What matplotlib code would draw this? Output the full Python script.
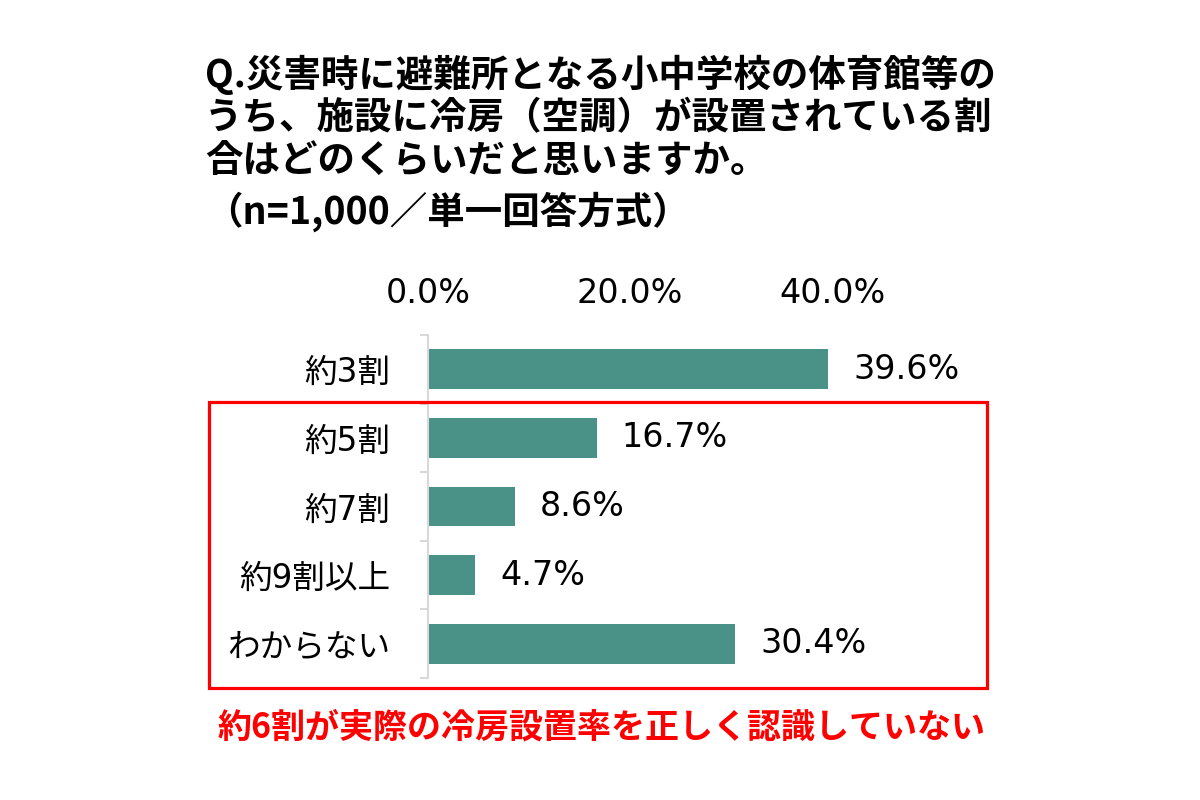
import matplotlib
matplotlib.use('Agg')
from matplotlib import pyplot as plt
from matplotlib.patches import Rectangle

plt.rcParams['font.family'] = ['Noto Sans CJK JP', 'DejaVu Sans']
num_font = ['DejaVu Sans', 'Noto Sans CJK JP']

# data
categories = ['約3割', '約5割', '約7割', '約9割以上', 'わからない']
values = [39.6, 16.7, 8.6, 4.7, 30.4]
tick_values = [0, 20, 40]
tick_labels = ['0.0%', '20.0%', '40.0%']

title_lines = [
    'Q.災害時に避難所となる小中学校の体育館等の',
    'うち、施設に冷房（空調）が設置されている割',
    '合はどのくらいだと思いますか。',
    '（n=1,000／単一回答方式）',
]
note = '約6割が実際の冷房設置率を正しく認識していない'

bar_color = '#4a9288'
red = '#ff0000'

fig = plt.figure(figsize=(12, 8), dpi=100)

# title lines, positioned by pixel rows of the reference
for line, ypix in zip(title_lines, [75, 118, 160, 212]):
    fig.text(205 / 1200, 1 - ypix / 800, line, fontsize=27, fontweight='bold',
             ha='left', va='center', color='black')

ax = fig.add_axes([428 / 1200, 1 - 678 / 800, 505 / 1200, 343 / 800])
y = list(range(len(categories)))
ax.barh(y, values, height=0.58, color=bar_color)
ax.set_xlim(0, 50)
ax.set_ylim(len(categories) - 0.5, -0.5)

ax.xaxis.tick_top()
ax.set_xticks(tick_values)
ax.set_xticklabels(tick_labels, fontsize=24, family=num_font)
ax.tick_params(axis='x', length=0, pad=18)

ax.set_yticks(y)
ax.set_yticklabels(categories, fontsize=23.5, family=num_font)
ax.tick_params(axis='y', which='major', length=0, pad=27)
ax.set_yticks([i - 0.5 for i in range(len(categories) + 1)], minor=True)
ax.tick_params(axis='y', which='minor', length=6, width=1.5, color='#d9d9d9')

for side in ['top', 'right', 'bottom']:
    ax.spines[side].set_visible(False)
ax.spines['left'].set_color('#d9d9d9')
ax.spines['left'].set_linewidth(1.5)

for yi, v in zip(y, values):
    ax.annotate(f'{v:.1f}%', (v, yi), xytext=(18, 0), textcoords='offset points',
                ha='left', va='center', fontsize=24, family=num_font)

# red frame around the last four answers
fig.patches.append(Rectangle((209 / 1200, 1 - 688 / 800), 778 / 1200, 286 / 800,
                             transform=fig.transFigure, fill=False,
                             edgecolor=red, linewidth=2.3))

fig.text(601 / 1200, 1 - 727 / 800, note, fontsize=24.5, fontweight='bold',
         color=red, ha='center', va='center')

fig.savefig('out.png', dpi=100)
